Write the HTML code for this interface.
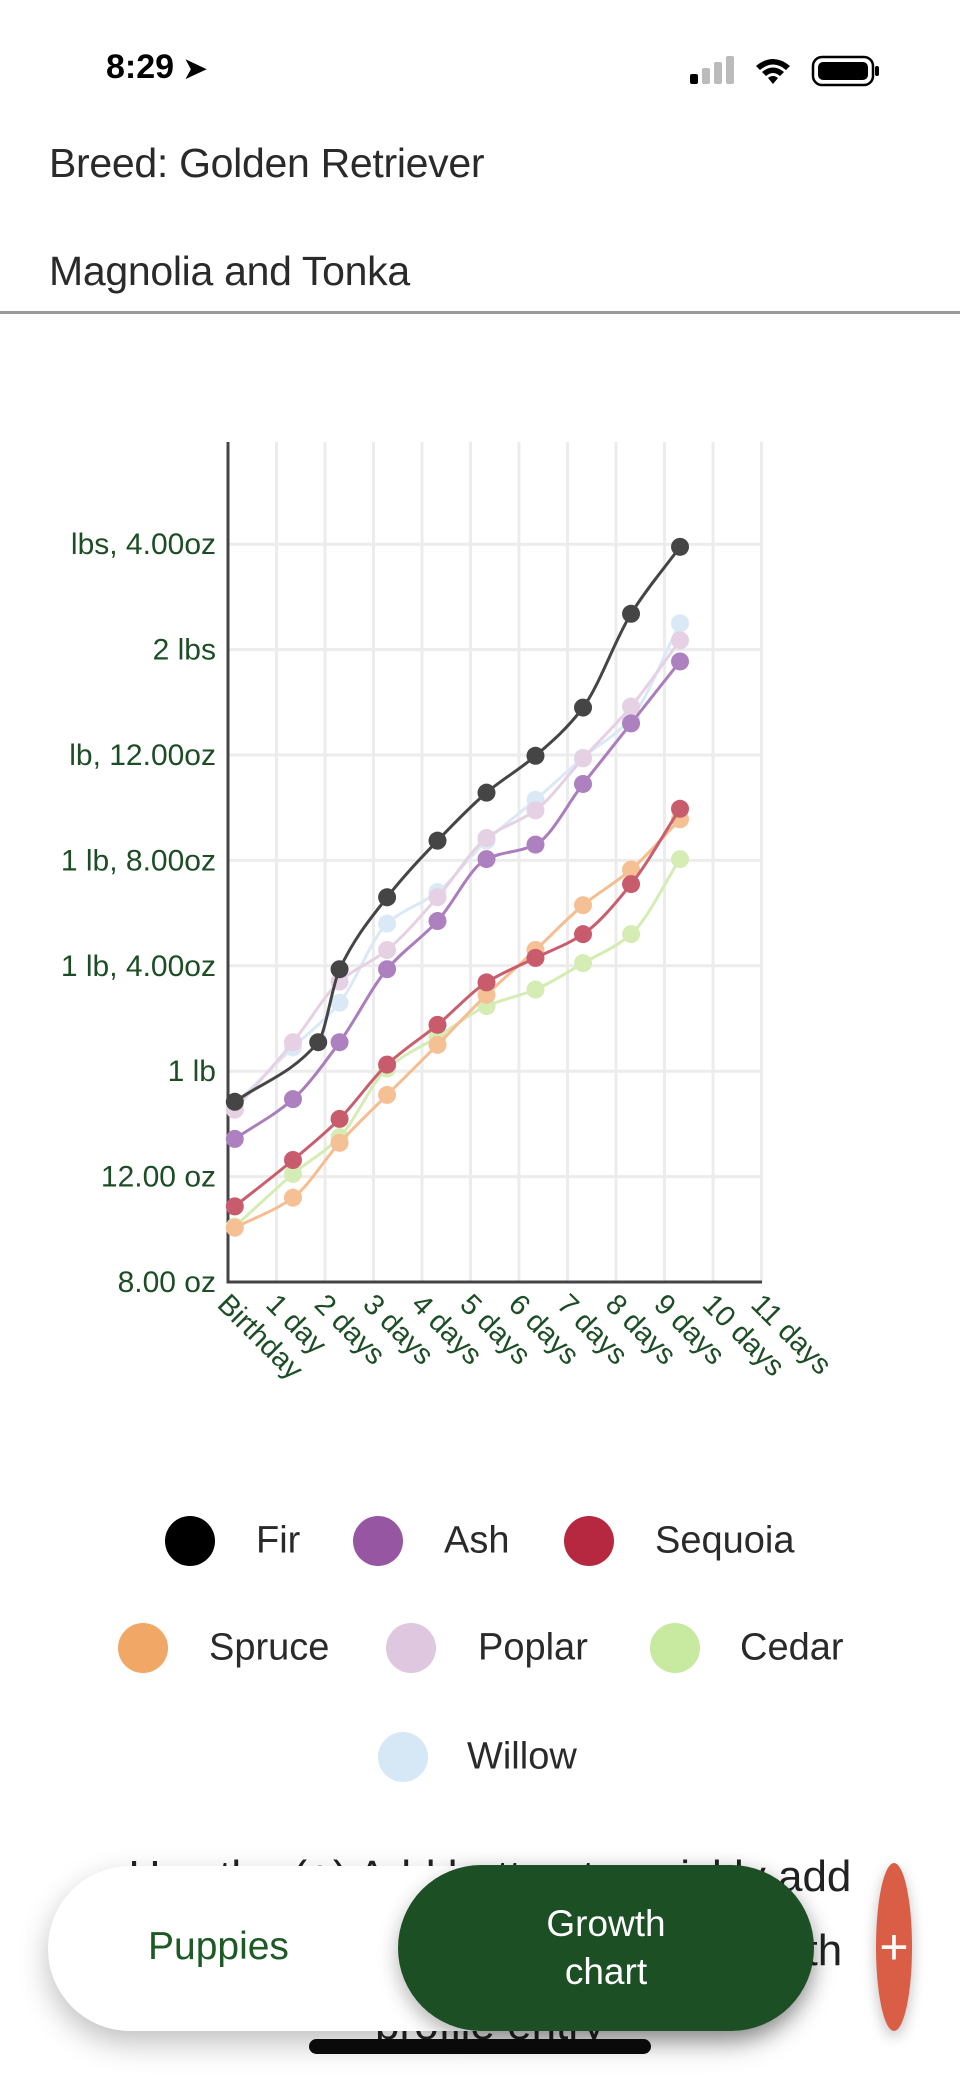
<!DOCTYPE html>
<html><head><meta charset="utf-8">
<style>
*{margin:0;padding:0;box-sizing:border-box}
body{width:960px;height:2079px;background:#fff;position:relative;overflow:hidden;font-family:"Liberation Sans",sans-serif;color:#222}
.abs{position:absolute}
.hdr{left:49px;font-size:41px;color:#2a2a2a;letter-spacing:-0.3px}
.leg-dot{position:absolute;width:50px;height:50px;border-radius:50%}
.leg-txt{position:absolute;font-size:38px;color:#2a2a2a;transform:translateY(-50%)}
</style></head><body>
<div class="abs" style="left:106px;top:48px;font-size:34px;font-weight:bold;color:#000">8:29 <span style="font-size:28px">➤</span></div>
<svg class="abs" style="left:680px;top:52px" width="200" height="40">
<rect x="10" y="22" width="8" height="10" rx="2" fill="#000"/><rect x="22" y="16" width="8" height="16" rx="2" fill="#bbb"/><rect x="34" y="10" width="8" height="22" rx="2" fill="#bbb"/><rect x="46" y="4" width="8" height="28" rx="2" fill="#bbb"/>
<path d="M76 14 Q93 0 110 14 L106 18 Q93 7 80 18Z M82 20 Q93 11 104 20 L100 24 Q93 18 86 24Z M88 26 Q93 22 98 26 L93 32Z" fill="#000"/>
<rect x="133" y="5" width="60" height="28" rx="9" fill="none" stroke="#000" stroke-width="2.5"/><rect x="138" y="10" width="50" height="18" rx="5" fill="#000"/><rect x="195" y="14" width="4" height="10" rx="2" fill="#000"/>
</svg>
<div class="abs hdr" style="top:140px">Breed: Golden Retriever</div>
<div class="abs hdr" style="top:248px">Magnolia and Tonka</div>
<div class="abs" style="left:0;top:311px;width:960px;height:3px;background:#999"></div>

<svg class="abs" id="chart" style="left:0;top:0" width="960" height="1480"></svg>

<div>
<div class="leg-dot" style="left:165px;top:1516px;background:#000"></div><div class="leg-txt" style="left:256px;top:1541px">Fir</div>
<div class="leg-dot" style="left:353px;top:1516px;background:#9656a2"></div><div class="leg-txt" style="left:444px;top:1541px">Ash</div>
<div class="leg-dot" style="left:564px;top:1516px;background:#b5283f"></div><div class="leg-txt" style="left:655px;top:1541px">Sequoia</div>
<div class="leg-dot" style="left:118px;top:1623px;background:#f1a867"></div><div class="leg-txt" style="left:209px;top:1648px">Spruce</div>
<div class="leg-dot" style="left:386px;top:1623px;background:#dfc7df"></div><div class="leg-txt" style="left:478px;top:1648px">Poplar</div>
<div class="leg-dot" style="left:650px;top:1623px;background:#c8e9a0"></div><div class="leg-txt" style="left:740px;top:1648px">Cedar</div>
<div class="leg-dot" style="left:378px;top:1732px;background:#d6e8f5"></div><div class="leg-txt" style="left:467px;top:1757px">Willow</div>
</div>

<div class="abs" style="left:110px;top:1840px;width:760px;font-size:44px;line-height:74px;color:#222;text-align:center">Use the (+) Add button to quickly add weights and other info to this growth profile entry</div>

<div class="abs" style="left:48px;top:1866px;width:760px;height:165px;border-radius:82px;background:#fff;box-shadow:0 12px 30px rgba(0,0,0,0.25)"></div>
<div class="abs" style="left:148px;top:1925px;font-size:39px;color:#1d5a25">Puppies</div>
<div class="abs" style="left:398px;top:1865px;width:416px;height:166px;border-radius:83px;background:#1c4f24;color:#fff;font-size:37px;line-height:48px;text-align:center;padding-top:35px;box-shadow:0 8px 20px rgba(0,0,0,0.3)">Growth<br>chart</div>
<div class="abs" style="left:876px;top:1863px;width:36px;height:168px;border-radius:50%;background:#d95e45;color:#fff;font-size:50px;line-height:168px;text-align:center;box-shadow:0 6px 14px rgba(0,0,0,0.25)">+</div>
<div class="abs" style="left:309px;top:2039px;width:342px;height:15px;border-radius:8px;background:#0a0a0a"></div>

<script>
const yTickValues = [8,12,16,20,24,28,32,36];
const yTickLabels = ["8.00 oz","12.00 oz","1 lb","1 lb, 4.00oz","1 lb, 8.00oz","lb, 12.00oz","2 lbs","lbs, 4.00oz"];
const xTickValues = [0,1,2,3,4,5,6,7,8,9,10,11];
const xTickLabels = ["Birthday","1 day","2 days","3 days","4 days","5 days","6 days","7 days","8 days","9 days","10 days","11 days"];
const seriesNames = ["Willow","Cedar","Poplar","Spruce","Sequoia","Ash","Fir"];
const daysFir = [0.14,1.86,2.30,3.28,4.32,5.33,6.34,7.32,8.31,9.32];
const daysOther = [0.14,1.34,2.30,3.28,4.32,5.33,6.34,7.32,8.31,9.32];
const firOz = [14.84,17.1,19.87,22.6,24.75,26.57,27.97,29.8,33.36,35.9];
const ashOz = [13.43,14.94,17.1,19.87,21.7,24.05,24.6,26.9,29.2,31.55];
const sequoiaOz = [10.87,12.63,14.19,16.25,17.76,19.37,20.3,21.2,23.1,25.96];
const spruceOz = [10.06,11.2,13.28,15.1,17.0,18.9,20.6,22.3,23.65,25.56];
const cedarOz = [10.1,12.1,13.5,16.1,17.3,18.47,19.1,20.1,21.2,24.05];
const poplarOz = [14.54,17.1,19.4,20.6,22.6,24.85,25.9,27.87,29.84,32.35];
const willowOz = [14.74,16.9,18.6,21.6,22.8,24.75,26.3,27.9,29.4,33.0];

const NS="http://www.w3.org/2000/svg";
const svg=document.getElementById('chart');
const X0=228, XR=762, YB=1282, YT=442;
const xs=d=>X0+d*48.5;
const ys=o=>YB-(o-8)*26.35;
function mk(t,a){const e=document.createElementNS(NS,t);for(const k in a)e.setAttribute(k,a[k]);svg.appendChild(e);return e;}
xTickValues.forEach((v,i)=>{
  if(v>0){const g=mk('line',{x1:xs(v),x2:xs(v),y1:YT,y2:YB,stroke:'#ececec','stroke-width':3});
  
  }
  const t=mk('text',{x:0,y:0,transform:`translate(${xs(v)-12},${YB+24}) rotate(45)`,'font-size':29,fill:'#1d4d25','font-family':'Liberation Sans, sans-serif'});
  t.textContent=xTickLabels[i];
  
  
});
yTickValues.forEach((v,i)=>{
  if(v>8){const g=mk('line',{x1:X0,x2:XR,y1:ys(v),y2:ys(v),stroke:'#ececec','stroke-width':3});
  
  }
  const t=mk('text',{x:216,y:ys(v)+10,'text-anchor':'end','font-size':30,fill:'#1d4d25','font-family':'Liberation Sans, sans-serif'});
  t.textContent=yTickLabels[i];
  
  
});
const ax=mk('path',{d:`M${X0} ${YT} V${YB} H${XR}`,stroke:'#444','stroke-width':3,fill:'none'});



function monotone(px,py){
  const n=px.length,d=[],m=[];
  for(let i=0;i<n-1;i++)d.push((py[i+1]-py[i])/(px[i+1]-px[i]));
  m[0]=d[0];m[n-1]=d[n-2];
  for(let i=1;i<n-1;i++)m[i]=(d[i-1]*d[i]<=0)?0:(2*d[i-1]*d[i])/(d[i-1]+d[i]);
  let s=`M${px[0]} ${py[0]}`;
  for(let i=0;i<n-1;i++){const h=(px[i+1]-px[i])/3;s+=` C${px[i]+h} ${py[i]+m[i]*h} ${px[i+1]-h} ${py[i+1]-m[i+1]*h} ${px[i+1]} ${py[i+1]}`;}
  return s;
}
const seriesData=[willowOz,cedarOz,poplarOz,spruceOz,sequoiaOz,ashOz,firOz];
const lineCol=['#dbe9f6','#d5ecb4','#e5d1e3','#f5bd90','#c95e6e','#aa7dbd','#454545'];
const dotCol=['#dbe9f6','#d5ecb4','#e5d1e3','#f6c095','#c85c6c','#ad80c0','#454545'];
seriesData.forEach((vals,si)=>{
  const days=seriesNames[si]==='Fir'?daysFir:daysOther;
  const px=days.map(xs),py=vals.map(ys);
  const l=mk('path',{d:monotone(px,py),stroke:lineCol[si],'stroke-width':3,fill:'none'});
  
  
  px.forEach((x,i)=>{
    const c=mk('circle',{cx:x,cy:py[i],r:9,fill:dotCol[si]});
    
    
  });
});
</script>
</body></html>
